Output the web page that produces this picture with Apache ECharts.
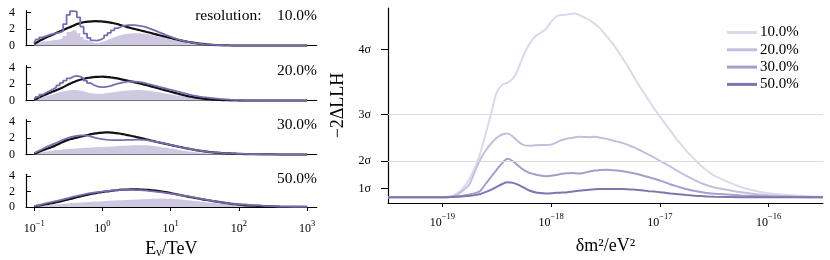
<!DOCTYPE html>
<html><head><meta charset="utf-8">
<script src="https://cdn.jsdelivr.net/npm/echarts@6/dist/echarts.min.js"></script>
<style>html,body{margin:0;padding:0;background:#fff}#c{width:830px;height:260px}</style>
</head><body><div id="c"></div>
<script>
// ---------- data ----------
const resolutions = ['10.0%', '20.0%', '30.0%', '50.0%'];
const energyTicks = [0.1, 1, 10, 100, 1000];
const dmTicks = [1e-19, 1e-18, 1e-17, 1e-16];
const sigmaTicks = [1, 4, 9, 16];
const sigmaLabels = ['1σ', '2σ', '3σ', '4σ'];
const sigmaGrid = [4, 9];

// log10(E / TeV) bin centres
const logE = [-1.00,-0.95,-0.90,-0.85,-0.80,-0.75,-0.70,-0.65,-0.60,-0.55,-0.50,-0.45,-0.40,-0.35,-0.30,-0.25,-0.20,-0.15,-0.10,-0.05,0.00,0.05,0.10,0.15,0.20,0.25,0.30,0.35,0.40,0.45,0.50,0.55,0.60,0.65,0.70,0.75,0.80,0.85,0.90,0.95,1.00,1.05,1.10,1.15,1.20,1.25,1.30,1.35,1.40,1.45,1.50,1.55,1.60,1.65,1.70,1.75,1.80,1.85,1.90,1.95,2.00,2.2,2.4,2.6,2.8,3.0];

const purple10 = [0.3,0.75,1.0,1.15,1.3,1.42,1.5,1.58,1.75,2.6, 3.7,4.15,4.1,3.4,2.3,1.45,0.95,0.65,0.62,0.72, 0.95,1.25,1.55,1.85,2.1,2.3,2.42,2.47,2.48,2.46, 2.42,2.36,2.25,2.1,1.95,1.8,1.63,1.47,1.3,1.15, 1.0,0.86,0.73,0.62,0.52,0.43,0.36,0.29,0.24,0.19, 0.15,0.12,0.1,0.08,0.06,0.05,0.04,0.03,0.03,0.02,0.02, 0.01,0.01,0.005,0.003,0.002];
const black10 = [0.2,0.45,0.68,0.88,1.07,1.25,1.44,1.62,1.8,1.98, 2.15,2.32,2.5,2.65,2.77,2.85,2.9,2.93,2.94,2.93, 2.9,2.86,2.8,2.72,2.63,2.52,2.4,2.27,2.15,2.05, 1.95,1.85,1.75,1.65,1.55,1.44,1.33,1.22,1.12,1.02, 0.92,0.82,0.72,0.63,0.55,0.47,0.4,0.34,0.28,0.23, 0.18,0.14,0.11,0.08,0.06,0.05,0.04,0.03,0.02,0.02,0.01, 0.01,0.005,0.003,0.002,0.001];
const fill10 = [0.1,0.3,0.42,0.5,0.56,0.62,0.68,0.72,0.8,1.15, 1.65,1.85,1.8,1.5,1.05,0.7,0.48,0.35,0.33,0.4, 0.52,0.68,0.85,1.0,1.15,1.27,1.36,1.42,1.46,1.48, 1.48,1.46,1.42,1.36,1.28,1.2,1.1,1.0,0.9,0.8, 0.7,0.61,0.52,0.44,0.37,0.31,0.26,0.21,0.17,0.14, 0.11,0.09,0.07,0.06,0.05,0.04,0.03,0.03,0.02,0.02,0.02, 0.01,0.01,0.005,0.003,0.002];

const purple20 = [0.2,0.45,0.72,0.95,1.17,1.38,1.6,1.85,2.15,2.42, 2.68,2.88,2.98,2.9,2.68,2.4,2.12,1.88,1.72,1.63, 1.62,1.68,1.78,1.92,2.04,2.15,2.24,2.3,2.32,2.3, 2.26,2.2,2.1,2.0,1.9,1.79,1.68,1.58,1.47,1.37, 1.27,1.16,1.05,0.94,0.84,0.74,0.65,0.57,0.5,0.44, 0.39,0.35,0.3,0.26,0.22,0.19,0.16,0.13,0.11,0.09,0.07, 0.04,0.02,0.01,0.005,0.003];
const black20 = [0.1,0.3,0.5,0.68,0.85,1.02,1.18,1.35,1.53,1.72, 1.95,2.12,2.3,2.45,2.57,2.67,2.75,2.81,2.85,2.87, 2.88,2.86,2.82,2.76,2.7,2.62,2.53,2.44,2.35,2.26, 2.16,2.06,1.96,1.86,1.75,1.64,1.53,1.41,1.3,1.19, 1.08,0.97,0.86,0.75,0.65,0.55,0.47,0.4,0.33,0.27, 0.22,0.18,0.15,0.12,0.1,0.08,0.06,0.05,0.04,0.03,0.02, 0.01,0.005,0.003,0.002,0.001];
const fill20 = [0.08,0.2,0.35,0.48,0.6,0.72,0.83,0.95,1.06,1.15, 1.23,1.28,1.28,1.24,1.16,1.06,0.96,0.88,0.83,0.82, 0.84,0.88,0.94,1.0,1.06,1.12,1.17,1.21,1.24,1.26, 1.27,1.27,1.25,1.22,1.17,1.11,1.04,0.97,0.9,0.83, 0.76,0.69,0.62,0.55,0.49,0.43,0.38,0.33,0.29,0.25, 0.22,0.19,0.16,0.14,0.12,0.1,0.08,0.07,0.06,0.05,0.04, 0.02,0.01,0.006,0.003,0.002];

const purple30 = [0.2,0.4,0.6,0.8,1.0,1.17,1.34,1.52,1.7,1.88, 2.03,2.15,2.24,2.3,2.33,2.32,2.25,2.14,2.03,1.94, 1.87,1.82,1.78,1.76,1.75,1.75,1.76,1.77,1.78,1.79, 1.8,1.8,1.78,1.74,1.68,1.61,1.53,1.45,1.36,1.27, 1.18,1.09,1.0,0.91,0.83,0.74,0.66,0.59,0.52,0.46, 0.4,0.35,0.31,0.27,0.24,0.21,0.19,0.17,0.15,0.13,0.11, 0.07,0.04,0.02,0.01,0.005];
const black30 = [0.1,0.28,0.45,0.6,0.75,0.9,1.06,1.25,1.45,1.63, 1.78,1.9,2.0,2.1,2.2,2.3,2.4,2.48,2.55,2.61, 2.65,2.67,2.67,2.64,2.6,2.54,2.46,2.38,2.3,2.21, 2.12,2.03,1.93,1.83,1.73,1.63,1.53,1.44,1.35,1.26, 1.17,1.08,0.99,0.9,0.82,0.73,0.65,0.58,0.51,0.45, 0.39,0.34,0.3,0.26,0.23,0.2,0.18,0.16,0.14,0.12,0.1, 0.06,0.04,0.02,0.01,0.005];
const fill30 = [0.08,0.17,0.26,0.34,0.41,0.47,0.52,0.56,0.6,0.64, 0.68,0.72,0.75,0.78,0.8,0.82,0.84,0.86,0.88,0.9, 0.92,0.94,0.96,0.98,1.0,1.03,1.06,1.08,1.1,1.12, 1.13,1.14,1.14,1.13,1.1,1.05,0.99,0.93,0.87,0.81, 0.75,0.68,0.61,0.54,0.47,0.41,0.35,0.3,0.26,0.22, 0.18,0.15,0.13,0.11,0.09,0.08,0.07,0.06,0.05,0.04,0.04, 0.02,0.01,0.006,0.003,0.002];

const purple50 = [0.12,0.22,0.32,0.42,0.52,0.62,0.72,0.82,0.93,1.04, 1.15,1.26,1.37,1.47,1.57,1.66,1.74,1.81,1.87,1.93, 1.98,2.03,2.08,2.12,2.15,2.17,2.19,2.2,2.2,2.19, 2.18,2.16,2.13,2.09,2.05,2.0,1.95,1.9,1.84,1.78, 1.72,1.65,1.58,1.51,1.44,1.37,1.29,1.21,1.13,1.05, 0.97,0.89,0.81,0.74,0.67,0.6,0.53,0.47,0.41,0.36,0.32, 0.2,0.12,0.06,0.03,0.01];
const black50 = [0.08,0.16,0.24,0.32,0.4,0.48,0.57,0.66,0.76,0.86, 0.97,1.08,1.19,1.3,1.41,1.52,1.62,1.71,1.79,1.86, 1.93,1.99,2.05,2.1,2.15,2.19,2.22,2.24,2.26,2.26, 2.26,2.25,2.23,2.2,2.17,2.13,2.08,2.02,1.95,1.87, 1.79,1.7,1.61,1.52,1.43,1.34,1.26,1.18,1.1,1.02, 0.94,0.87,0.8,0.73,0.66,0.59,0.52,0.46,0.4,0.35,0.3, 0.18,0.1,0.05,0.02,0.01];
const fill50 = [0.05,0.1,0.15,0.19,0.23,0.27,0.31,0.35,0.39,0.43, 0.46,0.5,0.53,0.56,0.59,0.62,0.65,0.68,0.7,0.72, 0.75,0.77,0.8,0.82,0.84,0.86,0.88,0.9,0.92,0.94, 0.96,0.98,1.0,1.02,1.04,1.06,1.07,1.08,1.08,1.07, 1.05,1.02,0.99,0.95,0.91,0.87,0.83,0.78,0.74,0.69, 0.64,0.59,0.54,0.49,0.45,0.41,0.37,0.33,0.3,0.27,0.24, 0.14,0.07,0.03,0.015,0.005];

// log10(delta m^2 / eV^2)
const logDm = [-19.5,-19.25,-19.0,-18.95,-18.90,-18.85,-18.80,-18.75,-18.70,-18.65,-18.60,-18.55,-18.50,-18.45,-18.40,-18.35,-18.30,-18.25,-18.20,-18.15,-18.10,-18.05,-18.00,-17.95,-17.90,-17.85,-17.80,-17.75,-17.70,-17.65,-17.60,-17.55,-17.50,-17.45,-17.40,-17.35,-17.30,-17.25,-17.20,-17.15,-17.10,-17.05,-17.00,-16.95,-16.90,-16.85,-16.80,-16.75,-16.70,-16.65,-16.60,-16.55,-16.50,-16.25,-16.0,-15.75,-15.5];
const llh10 = [0.06,0.06, 0.08,0.12,0.25,0.6,1.2,2.1,3.3,4.9,7.0,9.2, 11.4,12.2,12.45,12.9,14.0,15.5,16.6,17.4,17.8,18.2, 19.0,19.6,19.75,19.8,19.9,19.8,19.5,19.2,18.8,18.3, 17.6,16.9,16.1,15.2,14.3,13.3,12.3,11.4,10.5,9.6, 8.8,8.0,7.2,6.4,5.7,5.0,4.4,3.8,3.25,2.8, 2.4, 1.15,0.5,0.25,0.12];
const llh20 = [0.06,0.06, 0.08,0.1,0.2,0.45,0.9,1.5,2.9,4.2,5.15,5.9, 6.5,6.85,6.95,6.6,6.05,5.7,5.62,5.68,5.72,5.7, 5.75,6.0,6.25,6.42,6.5,6.6,6.58,6.55,6.6,6.5, 6.4,6.25,6.1,5.95,5.75,5.5,5.25,4.95,4.65,4.35, 4.0,3.7,3.35,3.0,2.65,2.35,2.05,1.75,1.5,1.3, 1.12, 0.6,0.28,0.14,0.08];
const llh30 = [0.06,0.06, 0.07,0.08,0.12,0.18,0.25,0.38,0.52,0.78,1.55,2.3, 3.05,3.75,4.22,3.95,3.45,3.0,2.7,2.55,2.42,2.35, 2.38,2.48,2.6,2.66,2.68,2.64,2.7,2.85,2.96,3.0, 3.03,3.02,2.97,2.9,2.8,2.68,2.55,2.4,2.23,2.06, 1.87,1.68,1.45,1.27,1.1,0.94,0.8,0.68,0.58,0.5, 0.45, 0.27,0.15,0.09,0.07];
const llh50 = [0.06,0.06, 0.07,0.08,0.1,0.13,0.17,0.23,0.3,0.42,0.65,0.9, 1.2,1.5,1.68,1.62,1.4,1.1,0.8,0.62,0.52,0.48, 0.5,0.55,0.58,0.62,0.7,0.76,0.82,0.88,0.93,0.96, 0.97,0.97,0.97,0.96,0.94,0.9,0.85,0.79,0.73,0.68, 0.62,0.55,0.48,0.42,0.36,0.3,0.25,0.21,0.18,0.15, 0.13, 0.08,0.07,0.06,0.06];

// ---------- build ----------
const FONT = 'Liberation Serif';
const panels = [
  {purple: purple10, black: black10, fill: fill10},
  {purple: purple20, black: black20, fill: fill20},
  {purple: purple30, black: black30, fill: fill30},
  {purple: purple50, black: black50, fill: fill50}
];
const llh = [llh10, llh20, llh30, llh50];
const rightColors = ['#dcd9ec', '#c4bfdd', '#a69fca', '#7f76ad'];
const PURPLE = '#7b6cb1', FILL = '#cfc8e1', BLACK = '#111111';

const pair = (xs, ys) => xs.map((l, i) => [Math.pow(10, l), ys[i]]);
function supLabel(v) {
  const e = Math.round(Math.log10(v));
  return '{b|10}{s|' + (e < 0 ? '\u2212' + (-e) : String(e)) + '}';
}
const supRich = (fb, fs, lift) => ({
  b: {fontSize: fb, fontFamily: FONT, color: '#000'},
  s: {fontSize: fs, fontFamily: FONT, color: '#000', padding: [0, 0, lift, 0]}
});

const grids = [], xAxes = [], yAxes = [], series = [];
const panelTop = [10.7, 65.7, 119.7, 174.3];
panels.forEach((p, i) => {
  grids.push({left: 26, width: 290.7, top: panelTop[i], height: 35});
  const last = i === 3;
  xAxes.push({
    type: 'log', gridIndex: i, min: Math.pow(10, -1.12), max: Math.pow(10, 3.14),
    axisLine: {show: true, onZero: false, lineStyle: {color: '#000', width: 1.2}},
    axisTick: {show: last, length: 4, customValues: energyTicks, lineStyle: {color: '#000', width: 1}},
    axisLabel: {show: last, customValues: energyTicks, margin: 12, formatter: supLabel, rich: supRich(12, 8.5, 11)},
    splitLine: {show: false},
    name: last ? '{a|E}{c|ν}{a|/TeV}' : '',
    nameLocation: 'middle', nameGap: 32,
    nameTextStyle: {rich: {a: {fontSize: 18, fontFamily: FONT, color: '#000'}, c: {fontSize: 12, fontFamily: FONT, color: '#000', padding: [8, 0, 0, 0]}}}
  });
  yAxes.push({
    type: 'value', gridIndex: i, min: 0, max: 4.2,
    axisLine: {show: true, lineStyle: {color: '#000', width: 1.2}},
    axisTick: {show: true, inside: true, length: 5, customValues: [0, 2, 4], lineStyle: {color: '#000'}},
    axisLabel: {customValues: [0, 2, 4], margin: 11, fontSize: 12, fontFamily: FONT, color: '#000'},
    splitLine: {show: false}
  });
  series.push({
    name: 'fill' + i, type: 'line', xAxisIndex: i, yAxisIndex: i, data: pair(logE, p.fill),
    step: 'middle', symbol: 'none', lineStyle: {width: 0}, areaStyle: {color: FILL, opacity: 1}, z: 1
  });
  series.push({
    name: 'ref' + i, type: 'line', xAxisIndex: i, yAxisIndex: i, data: pair(logE, p.black),
    smooth: true, symbol: 'none', lineStyle: {color: BLACK, width: 2.2}, z: 2
  });
  series.push({
    name: 'osc' + i, type: 'line', xAxisIndex: i, yAxisIndex: i, data: pair(logE, p.purple),
    step: 'middle', symbol: 'none', lineStyle: {color: PURPLE, width: 1.8}, z: 3
  });
});

// right panel
grids.push({left: 388, width: 435, top: 8, height: 201});
xAxes.push({
  type: 'log', gridIndex: 4, min: Math.pow(10, -19.5), max: Math.pow(10, -15.5),
  axisLine: {show: true, onZero: false, lineStyle: {color: '#000', width: 1.2}},
  axisTick: {show: true, length: 4, customValues: dmTicks, lineStyle: {color: '#000'}},
  axisLabel: {customValues: dmTicks, margin: 9, formatter: supLabel, rich: supRich(12, 8.5, 12)},
  splitLine: {show: false},
  name: 'δm²/eV²', nameLocation: 'middle', nameGap: 34,
  nameTextStyle: {fontSize: 18, fontFamily: FONT, color: '#000'}
});
yAxes.push({
  type: 'value', gridIndex: 4, min: -0.55, max: 20.5,
  axisLine: {show: true, lineStyle: {color: '#000', width: 1.2}},
  axisTick: {show: true, length: 7, customValues: sigmaTicks, lineStyle: {color: '#000'}},
  axisLabel: {customValues: sigmaTicks, margin: 17, fontSize: 12, fontFamily: FONT, color: '#000',
    formatter: v => sigmaLabels[sigmaTicks.indexOf(Math.round(v))] || ''},
  splitLine: {show: false},
  name: '\u22122ΔLLH', nameLocation: 'middle', nameGap: 27,
  nameTextStyle: {fontSize: 18, fontFamily: FONT, color: '#000'}
});
resolutions.forEach((r, k) => {
  const s = {
    name: r, type: 'line', xAxisIndex: 4, yAxisIndex: 4, data: pair(logDm, llh[k]),
    smooth: 0.3, symbol: 'none', lineStyle: {color: rightColors[k], width: 2}, itemStyle: {color: rightColors[k]}, z: 2 + k
  };
  if (k === 0) {
    s.markLine = {silent: true, symbol: 'none', label: {show: false}, animation: false,
      lineStyle: {color: '#dcdcdc', width: 1, type: 'solid'},
      data: sigmaGrid.map(v => ({yAxis: v}))};
  }
  series.push(s);
});

const graphics = resolutions.map((r, i) => ({
  type: 'text', right: 830 - 317, top: panelTop[i] - 3,
  style: {text: (i === 0 ? 'resolution:\u2003' : '') + r, font: '15.5px "' + FONT + '"', fill: '#000', textAlign: 'right'}
}));

const chart = echarts.init(document.getElementById('c'), null, {renderer: 'canvas'});
chart.setOption({
  animation: false,
  backgroundColor: '#fff',
  grid: grids, xAxis: xAxes, yAxis: yAxes, series: series,
  legend: {
    data: resolutions, orient: 'vertical', left: 727, top: 25, itemWidth: 30, itemHeight: 3, itemGap: 2.3,
    padding: 0, icon: 'rect',
    textStyle: {fontSize: 15, lineHeight: 14, fontFamily: FONT, color: '#000', padding: [0, 0, 0, -2]}
  },
  graphic: graphics
});
</script>
</body></html>
